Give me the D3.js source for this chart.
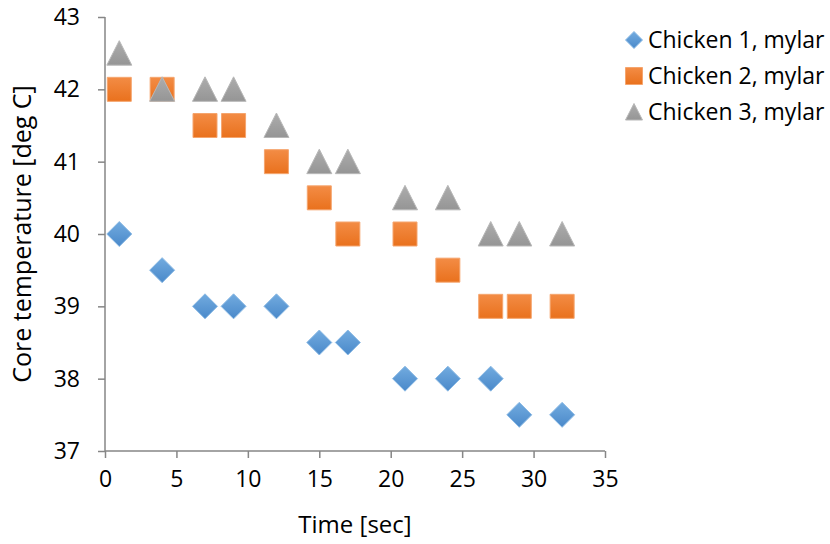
<!DOCTYPE html>
<html>
<head>
<meta charset="utf-8">
<script src="https://cdn.jsdelivr.net/npm/d3@7"></script>
<style>
  body { margin: 0; background: #fff; }
  text { font-family: "Open Sans", "Liberation Sans", sans-serif; fill: #000; }
</style>
</head>
<body>
<script>
// time points (sec), shared by all three runs
var times = [1, 4, 7, 9, 12, 15, 17, 21, 24, 27, 29, 32];
var chicken1 = [40, 39.5, 39, 39, 39, 38.5, 38.5, 38, 38, 38, 37.5, 37.5];
var chicken2 = [42, 42, 41.5, 41.5, 41, 40.5, 40, 40, 39.5, 39, 39, 39];
var chicken3 = [42.5, 42, 42, 42, 41.5, 41, 41, 40.5, 40.5, 40, 40, 40];
var seriesNames = ["Chicken 1, mylar", "Chicken 2, mylar", "Chicken 3, mylar"];
var xTicks = [0, 5, 10, 15, 20, 25, 30, 35];
var yTicks = [37, 38, 39, 40, 41, 42, 43];

var width = 830, height = 544;
var margin = {top: 17, right: 225, bottom: 93, left: 105};

// marker outlines, w = full width
function diamond(w) { var h = w / 2; return "M0," + (-h) + "L" + h + ",0L0," + h + "L" + (-h) + ",0Z"; }
function square(w) { var h = w / 2; return "M" + (-h) + "," + (-h) + "H" + h + "V" + h + "H" + (-h) + "Z"; }
function triangle(w) { var h = w / 2; return "M0," + (-h) + "L" + h + "," + (h - 0.5) + "L" + (-h) + "," + (h - 0.5) + "Z"; }

var series = [
  {name: seriesNames[0], values: chicken1, shape: diamond,  size: 25, id: "g1", top: "#72abdf", bottom: "#4a89ca", stroke: "#8dbbe5"},
  {name: seriesNames[1], values: chicken2, shape: square,   size: 24, id: "g2", top: "#f38c45", bottom: "#e9711d", stroke: "#f5a56e"},
  {name: seriesNames[2], values: chicken3, shape: triangle, size: 25, id: "g3", top: "#adadad", bottom: "#959595", stroke: "#b8b8b8"}
];

var svg = d3.select("body").append("svg")
  .attr("width", width)
  .attr("height", height);

var defs = svg.append("defs");
series.forEach(function(s) {
  var g = defs.append("linearGradient").attr("id", s.id)
    .attr("x1", 0).attr("y1", 0).attr("x2", 0).attr("y2", 1);
  g.append("stop").attr("offset", "0%").attr("stop-color", s.top);
  g.append("stop").attr("offset", "100%").attr("stop-color", s.bottom);
});

var x = d3.scaleLinear().domain([0, 35]).range([margin.left, width - margin.right]);
var y = d3.scaleLinear().domain([37, 43]).range([height - margin.bottom, margin.top]);

// axes
var xAxis = svg.append("g")
  .attr("transform", "translate(0," + y(37) + ")")
  .call(d3.axisBottom(x).tickValues(xTicks).tickSize(7).tickPadding(13));
var yAxis = svg.append("g")
  .attr("transform", "translate(" + x(0) + ",0)")
  .call(d3.axisLeft(y).tickValues(yTicks).tickFormat(d3.format("d")).tickSize(7).tickPadding(18));

[xAxis, yAxis].forEach(function(a) {
  a.select(".domain").attr("stroke", "#868686").attr("stroke-width", 1.5);
  a.selectAll(".tick line").attr("stroke", "#868686").attr("stroke-width", 1.5);
  a.selectAll(".tick text").style("font-size", "23px").attr("fill", "#000");
});
xAxis.select(".domain").attr("d", "M" + x(0) + ",0H" + x(35));
yAxis.select(".domain").attr("d", "M0," + y(43) + "V" + y(37));

// axis titles
svg.append("text")
  .attr("x", (x(0) + x(35)) / 2)
  .attr("y", 533)
  .attr("text-anchor", "middle")
  .style("font-size", "24px")
  .text("Time [sec]");

svg.append("text")
  .attr("transform", "translate(31," + (y(37) + y(43)) / 2 + ") rotate(-90)")
  .attr("text-anchor", "middle")
  .style("font-size", "25px")
  .text("Core temperature [deg C]");

// markers
series.forEach(function(s) {
  svg.append("g").selectAll("path")
    .data(s.values.map(function(v, i) { return [times[i], v]; }))
    .enter().append("path")
    .attr("transform", function(d) { return "translate(" + x(d[0]) + "," + y(d[1]) + ")"; })
    .attr("d", s.shape(s.size))
    .attr("fill", "url(#" + s.id + ")")
    .attr("stroke", s.stroke)
    .attr("stroke-width", 1);
});

// legend
var legend = svg.append("g");
series.forEach(function(s, i) {
  var ly = 40 + i * 36;
  legend.append("path")
    .attr("transform", "translate(634," + ly + ")")
    .attr("d", s.shape(17))
    .attr("fill", "url(#" + s.id + ")")
    .attr("stroke", s.stroke);
  legend.append("text")
    .attr("x", 648)
    .attr("y", ly + 8)
    .style("font-size", "23px")
    .text(s.name);
});
</script>
</body>
</html>
